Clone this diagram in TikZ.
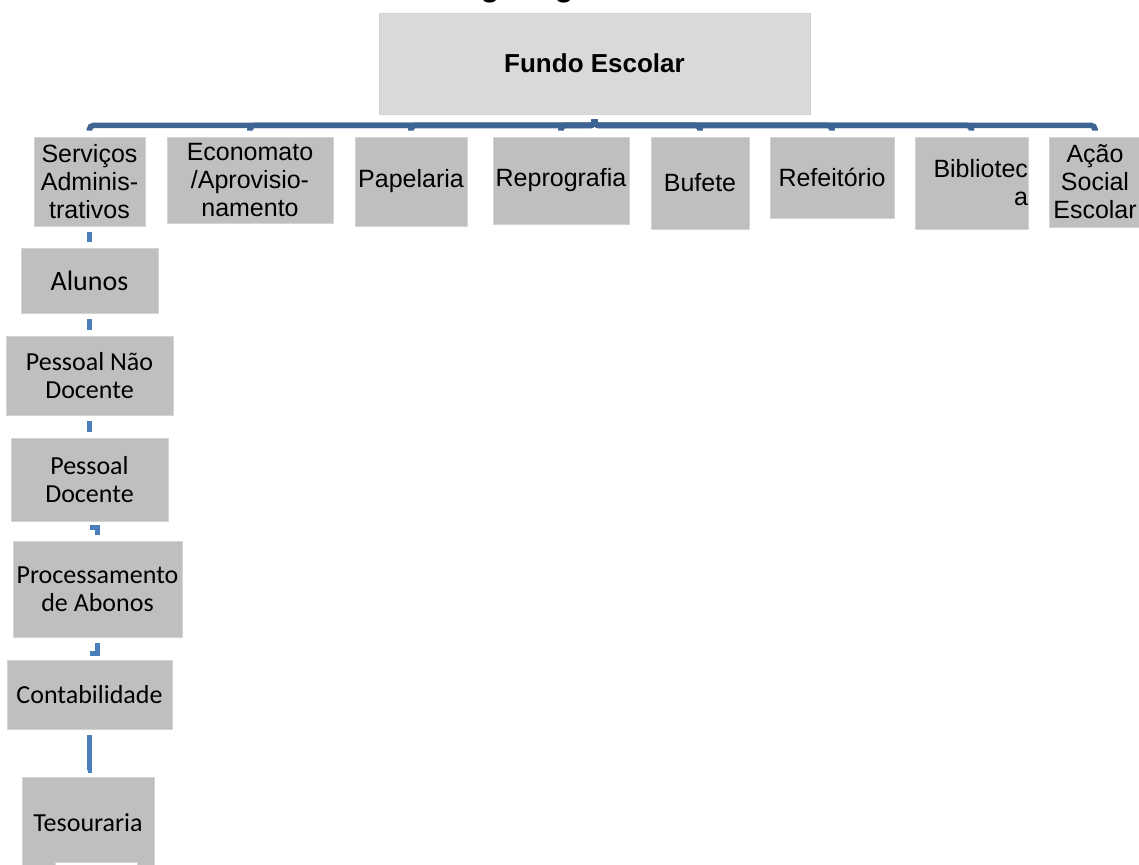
\documentclass[tikz,border=0pt]{standalone}
\usepackage{fontspec}
\setmainfont{Liberation Sans}
\newfontfamily\calibri{Carlito}
\usetikzlibrary{positioning,calc}
\definecolor{busblue}{HTML}{3E6494}
\definecolor{lnkblue}{HTML}{4A7EBB}
\definecolor{boxgrey}{HTML}{BFBFBF}
\definecolor{topgrey}{HTML}{D9D9D9}
\definecolor{edgegrey}{HTML}{D4D4D4}
\tikzset{
  ttl/.style   ={font=\fontsize{15.5}{17}\selectfont\bfseries, text=black},
  head/.style  ={draw=edgegrey, line width=0.4pt, fill=topgrey, inner sep=0pt,
                 font=\fontsize{13}{15}\selectfont\bfseries, align=center},
  unit/.style  ={draw=edgegrey, line width=0.4pt, fill=boxgrey, inner sep=0pt,
                 font=\fontsize{12.5}{14}\selectfont, align=center},
  sect/.style  ={draw=edgegrey, line width=0.4pt, fill=boxgrey, inner sep=0pt,
                 font=\calibri\fontsize{13}{14}\selectfont, align=center},
  bus/.style   ={draw=busblue, line width=2.8pt, rounded corners=2pt},
  link/.style  ={draw=lnkblue, line width=2.4pt},
}

\begin{document}
\begin{tikzpicture}[x=0.5pt, y=-0.5pt]
  \useasboundingbox (0,0) rectangle (1139,864);

  % ---- title (cut by the page edge) ----
  \node[ttl, anchor=base] (ttl) at (546,-4) {Organograma};

  % ---- root ----
  \node[head, minimum width=215.5pt, minimum height=50.5pt] (fundo) at (594.5,63.5) {Fundo Escolar};

  % ---- first level ----
  \node[unit, minimum width=55.5pt, minimum height=44.5pt] (serv) at (89.5,181.5) {Serviços\\Adminis-\\trativos};
  \node[unit, minimum width=83pt,   minimum height=43pt]   (econ) at (250,180)    {Economato\\/Aprovisio-\\namento};
  \node[unit, minimum width=56pt,   minimum height=44.5pt] (pape) at (411,181.5)  {Papelaria};
  \node[unit, minimum width=68pt,   minimum height=43.5pt] (repr) at (561,180.5)  {Reprografia};
  \node[unit, minimum width=49pt,   minimum height=46pt]   (bufe) at (700,183)    {Bufete};
  \node[unit, minimum width=62pt,   minimum height=40.5pt] (refe) at (832,177.5)  {Refeitório};
  \node[unit, minimum width=56.5pt, minimum height=46pt, text width=56.5pt, align=right] (bibl) at (971.5,183) {Bibliotec\\a};
  \node[unit, minimum width=46pt,   minimum height=45pt]   (acao) at (1095,182)   {Ação\\Social\\Escolar};

  % ---- root to first level ----
  \foreach \c in {serv,econ,pape,repr,bufe,refe,bibl,acao}
    \draw[bus] ($(fundo.south)+(0,5)$) -- ++(0,6) -| ($(\c.north)+(0,-6)$);

  % ---- administrative services column ----
  \node[sect, minimum width=68.5pt, minimum height=32.5pt, font=\calibri\fontsize{14}{15}\selectfont] (alun) at (89.5,280.5) {Alunos};
  \node[sect, minimum width=83.5pt, minimum height=39.5pt] (pnd)  at (89.5,375.5) {Pessoal Não\\Docente};
  \node[sect, minimum width=78.5pt, minimum height=41.5pt] (pdoc) at (89.5,479.5) {Pessoal\\Docente};
  \node[sect, minimum width=84.5pt, minimum height=48pt]   (proc) at (97.5,589)   {Processamento\\de Abonos};
  \node[sect, minimum width=82.5pt, minimum height=34.5pt] (cont) at (89.5,694.5) {Contabilidade};
  \node[sect, minimum width=66pt,   minimum height=46pt]   (teso) at (88,823)     {Tesouraria};
  \draw[draw=edgegrey, fill=white] (55,862) rectangle (137,880);

  \draw[link] ($(serv.south)+(0,6)$) -- ($(alun.north)+(0,-6)$);
  \draw[link] ($(alun.south)+(0,6)$) -- ($(pnd.north)+(0,-6)$);
  \draw[link] ($(pnd.south)+(0,6)$)  -- ($(pdoc.north)+(0,-6)$);
  \draw[link] ($(pdoc.south)+(0,6)$) -| ($(proc.north)+(0,-6)$);
  \draw[link] ($(proc.south)+(0,6)$) |- ($(cont.north)+(0,-6)$);
  \draw[link] ($(cont.south)+(0,6)$) |- ($(teso.north)+(0,-6)$);

\end{tikzpicture}
\end{document}
